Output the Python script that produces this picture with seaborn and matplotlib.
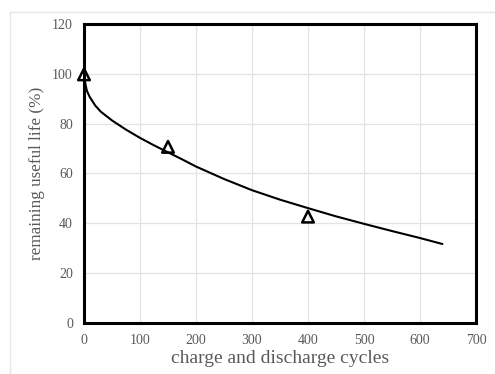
import numpy as np
import pandas as pd
import matplotlib
matplotlib.use('Agg')
import matplotlib.pyplot as plt
import seaborn as sns
from matplotlib.lines import Line2D

# fitted curve
curve_cycles = [0, 2, 5, 10, 20, 30, 50, 75, 100, 125, 150, 175, 200,
                250, 300, 350, 400, 450, 500, 550, 600, 640]
curve_life = [100, 96.5, 93.3, 90.8, 87.3, 84.8, 81.3, 77.6, 74.3, 71.3, 68.5, 65.7, 62.8,
              57.8, 53.3, 49.5, 46.1, 42.8, 39.8, 36.9, 34.1, 31.7]

# measured points (triangles)
meas_cycles = [0, 150, 400]
meas_life = [99.8, 70.7, 42.7]

curve_df = pd.DataFrame({'cycles': curve_cycles, 'life': curve_life})
meas_df = pd.DataFrame({'cycles': meas_cycles, 'life': meas_life})

sns.set_style('white')
plt.rcParams['font.family'] = ['Liberation Serif', 'DejaVu Serif']

fig = plt.figure(figsize=(4.95, 3.74), dpi=100)
ax = fig.add_axes([0.1697, 0.1364, 0.7919, 0.7994])

sns.lineplot(data=curve_df, x='cycles', y='life', ax=ax, color='black', linewidth=1.5)
sns.scatterplot(data=meas_df, x='cycles', y='life', ax=ax, marker='^', s=70,
                facecolor='none', edgecolor='black', linewidth=1.8, zorder=5, clip_on=False)

ax.set_xlim(0, 700)
ax.set_ylim(0, 120)
ax.set_xticks(range(0, 701, 100))
ax.set_yticks(range(0, 121, 20))
ax.grid(True, color='#e3e3e3', linewidth=0.9)
ax.set_axisbelow(True)
for s in ax.spines.values():
    s.set_color('black')
    s.set_linewidth(2.2)
ax.tick_params(length=0, labelsize=10, labelcolor='#595959', pad=8)
ax.set_xlabel('charge and discharge cycles', fontsize=14, color='#595959', labelpad=2)
ax.set_ylabel('remaining useful life (%)', fontsize=12.3, color='#595959', labelpad=5)

# light frame of the figure
fig.add_artist(Line2D([10 / 495, 1], [1 - 12 / 374, 1 - 12 / 374], color='#e6e6e6', linewidth=1))
fig.add_artist(Line2D([10 / 495, 10 / 495], [0, 1 - 12 / 374], color='#e6e6e6', linewidth=1))

plt.savefig('out.png', dpi=100)
plt.close()
